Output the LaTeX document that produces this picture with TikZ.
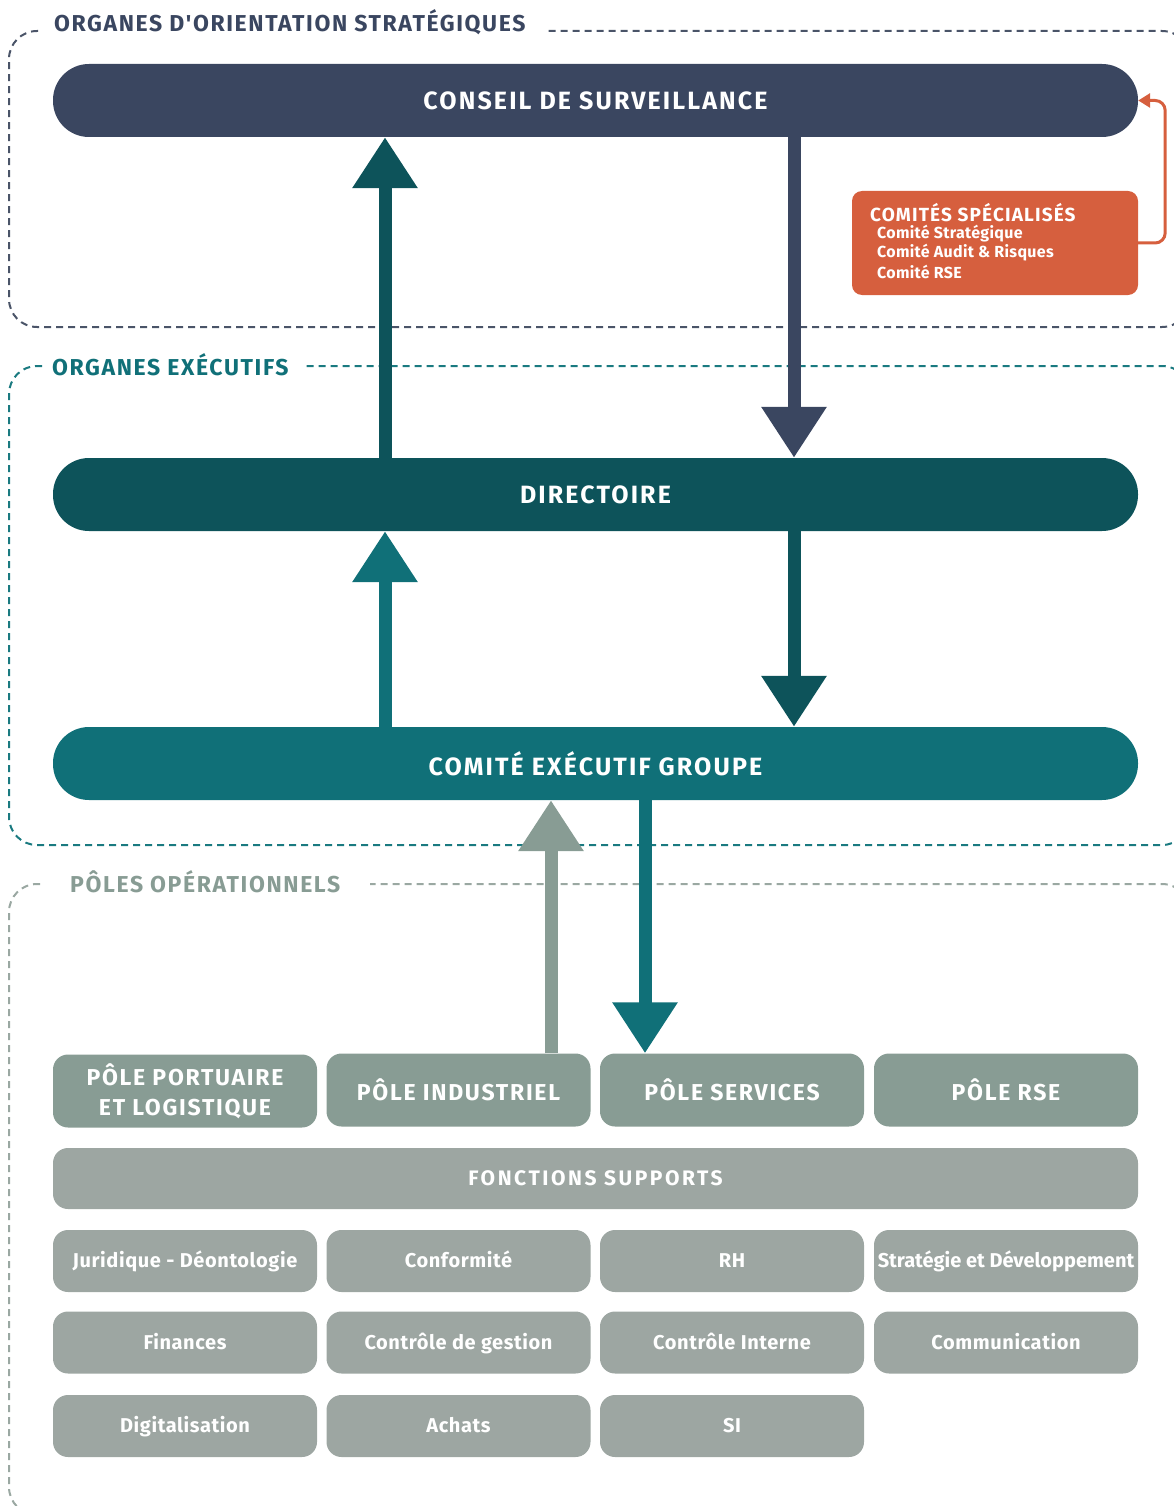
\documentclass[tikz,border=0pt]{standalone}
\usepackage{fontspec}
\setmainfont{Fira Sans}
\newfontfamily\ff{Fira Sans}
\usetikzlibrary{arrows.meta}
\definecolor{slate}{HTML}{3A4660}
\definecolor{dteal}{HTML}{0D535A}
\definecolor{mteal}{HTML}{107078}
\definecolor{orng}{HTML}{D65F3E}
\definecolor{pgreen}{HTML}{889C94}
\definecolor{sgrey}{HTML}{9DA6A2}
\definecolor{fone}{HTML}{4A5468}
\definecolor{ftwo}{HTML}{1A7A80}
\definecolor{fthree}{HTML}{9AA8A2}
\newcommand\spc[3]{\ff\fontsize{#1}{#2}\selectfont\bfseries\addfontfeature{LetterSpace=#3}}
\tikzset{
  bigbar/.style={rectangle, rounded corners=36pt, minimum width=1085pt, minimum height=73pt, text=white, font=\spc{25}{30}{8.5}, inner sep=0pt},
  polebox/.style={rectangle, rounded corners=15pt, fill=pgreen, minimum width=264pt, minimum height=73pt, text=white, font=\spc{23}{29}{7.5}, align=center, inner sep=0pt},
  supbox/.style={rectangle, rounded corners=15pt, fill=sgrey, minimum width=264pt, minimum height=62pt, text=white, font=\spc{20}{24}{3}, inner sep=0pt, text height=18.8pt, text depth=5pt},
  frame/.style={line width=2pt, dash pattern=on 7pt off 5pt, rounded corners=28pt},
  ftitle/.style={anchor=west, font=\spc{23}{27}{7}, inner sep=0pt},
  bigarrow/.style={line width=13pt, -{Triangle[length=51pt,width=62pt]}},
  comline/.style={anchor=west, text=white, font=\spc{16}{19}{2}, inner sep=0pt}
}
\begin{document}
\begin{tikzpicture}[x=1pt,y=-1pt]
\useasboundingbox (0,0) rectangle (1173,1506);
% frames
\draw[frame, fone] (38,31) -- (9,31) -- (9,327) -- (1190,327) -- (1190,31) -- (547,31);
\draw[frame, ftwo] (42,366) -- (9,366) -- (9,845) -- (1190,845) -- (1190,366) -- (303,366);
\draw[frame, fthree] (40,884) -- (9,884) -- (9,1515) -- (1190,1515) -- (1190,884) -- (370,884);
\node[ftitle, text=slate] (t1) at (54,22) {ORGANES D'ORIENTATION STRATÉGIQUES};
\node[ftitle, text=mteal] (t2) at (52,365) {ORGANES EXÉCUTIFS};
\node[ftitle, text=pgreen] (t3) at (70,882) {PÔLES OPÉRATIONNELS};
% main bars
\node[bigbar, fill=slate] (cons) at (595.5,100.5) {CONSEIL DE SURVEILLANCE};
\node[bigbar, fill=dteal] (dir) at (595.5,494.5) {DIRECTOIRE};
\node[bigbar, fill=mteal] (comex) at (595.5,763.5) {COMITÉ EXÉCUTIF GROUPE};
% comites
\node[rectangle, rounded corners=10pt, fill=orng, minimum width=286pt, minimum height=104pt, inner sep=0pt] (com) at (995,243) {};
\node[anchor=west, text=white, font=\spc{19}{22}{6}, inner sep=0pt] (comt) at (870,213) {COMITÉS SPÉCIALISÉS};
\node[comline] (com1) at (877,234) {Comité Stratégique};
\node[comline] (com2) at (877,253) {Comité Audit \& Risques};
\node[comline] (com3) at (877,272) {Comité RSE};
\draw[orng, line width=3pt, rounded corners=10pt, -{Triangle[length=12pt,width=14pt]}] (com.east) -- ++(27,0) |- (cons.east);
% poles
\node[polebox] (p1) at (185,1091) {PÔLE PORTUAIRE\\[1pt]ET LOGISTIQUE};
\node[polebox] (p2) at (458.5,1090) {PÔLE INDUSTRIEL};
\node[polebox] (p3) at (732,1090) {PÔLE SERVICES};
\node[polebox] (p4) at (1006,1090) {PÔLE RSE};
\node[rectangle, rounded corners=15pt, fill=sgrey, minimum width=1085pt, minimum height=61pt, text=white, font=\spc{21}{25}{12}, inner sep=0pt] (fs) at (595.5,1178.5) {FONCTIONS SUPPORTS};
\node[supbox] (s1) at (185,1261) {Juridique - Déontologie};
\node[supbox] (s2) at (458.5,1261) {Conformité};
\node[supbox] (s3) at (732,1261) {RH};
\node[supbox, font=\spc{20}{24}{0}] (s4) at (1006,1261) {Stratégie et Développement};
\node[supbox] (s5) at (185,1342.5) {Finances};
\node[supbox] (s6) at (458.5,1342.5) {Contrôle de gestion};
\node[supbox] (s7) at (732,1342.5) {Contrôle Interne};
\node[supbox] (s8) at (1006,1342.5) {Communication};
\node[supbox] (s9) at (185,1426) {Digitalisation};
\node[supbox] (s10) at (458.5,1426) {Achats};
\node[supbox] (s11) at (732,1426) {SI};
% arrow x positions
\coordinate (xa) at (385,0);
\coordinate (xb) at (794,0);
\coordinate (xc) at (551,0);
\coordinate (xd) at (645,0);
\draw[bigarrow, dteal] (dir.north -| xa) -- (cons.south -| xa);
\draw[bigarrow, slate] (cons.south -| xb) -- (dir.north -| xb);
\draw[bigarrow, mteal] (comex.north -| xa) -- (dir.south -| xa);
\draw[bigarrow, dteal] (dir.south -| xb) -- (comex.north -| xb);
\draw[bigarrow, pgreen] (p2.north -| xc) -- (comex.south -| xc);
\draw[bigarrow, mteal] (comex.south -| xd) -- (p3.north -| xd);
\end{tikzpicture}
\end{document}
